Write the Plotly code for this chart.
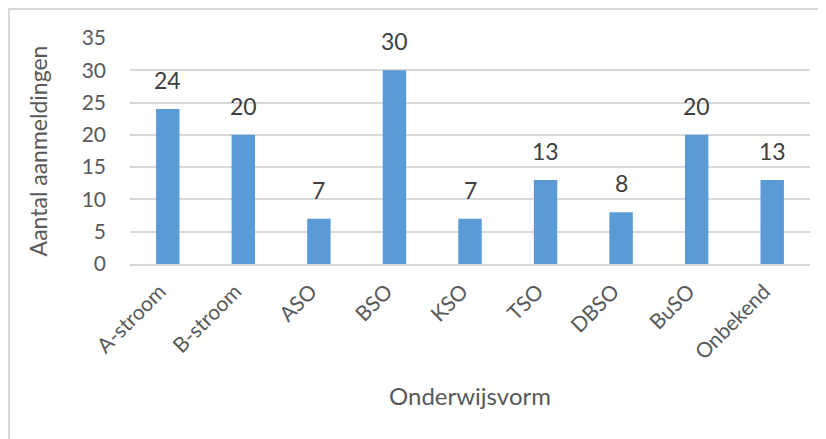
import plotly.graph_objects as go

categories = ["A-stroom", "B-stroom", "ASO", "BSO", "KSO", "TSO", "DBSO", "BuSO", "Onbekend"]
values = [24, 20, 7, 30, 7, 13, 8, 20, 13]
y_ticks = [0, 5, 10, 15, 20, 25, 30, 35]

font_family = "Lato, 'Liberation Sans', sans-serif"
text_color = "#595959"

fig = go.Figure(go.Bar(
    x=categories, y=values,
    marker=dict(color="#5B9BD5", line=dict(width=0)),
    cliponaxis=False,
))

for c, v in zip(categories, values):
    fig.add_annotation(x=c, y=v, text=str(v), showarrow=False,
                       yanchor="bottom", yshift=13,
                       font=dict(size=23, color="#404040", family=font_family))

W, H = 826, 439
L, T, R, B = 122, 30, 24, 183
pw, ph = W - L - R, H - T - B

fig.update_layout(
    width=W, height=H,
    margin=dict(l=L, r=R, t=T, b=B),
    paper_bgcolor="white", plot_bgcolor="white",
    bargap=0.69,
    showlegend=False,
    font=dict(family=font_family, color=text_color, size=21),
    xaxis=dict(
        tickangle=-45, tickfont=dict(size=21, color=text_color),
        showline=True, linecolor="#D9D9D9", linewidth=2,
        ticks="", showgrid=False, automargin=False,
        ticklabelstandoff=5, ticklabelshift=-8,
        title=dict(text="Onderwijsvorm", font=dict(size=24, color=text_color), standoff=25),
    ),
    yaxis=dict(
        range=[0, 35], tickvals=y_ticks, tickfont=dict(size=21, color=text_color),
        showgrid=True, gridcolor="#D9D9D9", gridwidth=1.5, zeroline=False,
        ticks="", automargin=False, ticklabelstandoff=23,
        title=dict(text="Aantal aanmeldingen", font=dict(size=23, color=text_color), standoff=27),
    ),
    shapes=[dict(type="rect", xref="paper", yref="paper",
                 x0=-(L - 1) / pw, x1=(pw + R + 20) / pw,
                 y0=-(B + 20) / ph, y1=(ph + T - 1) / ph,
                 line=dict(color="#D9D9D9", width=2), fillcolor="rgba(0,0,0,0)")],
)

fig.write_html("out.html")
